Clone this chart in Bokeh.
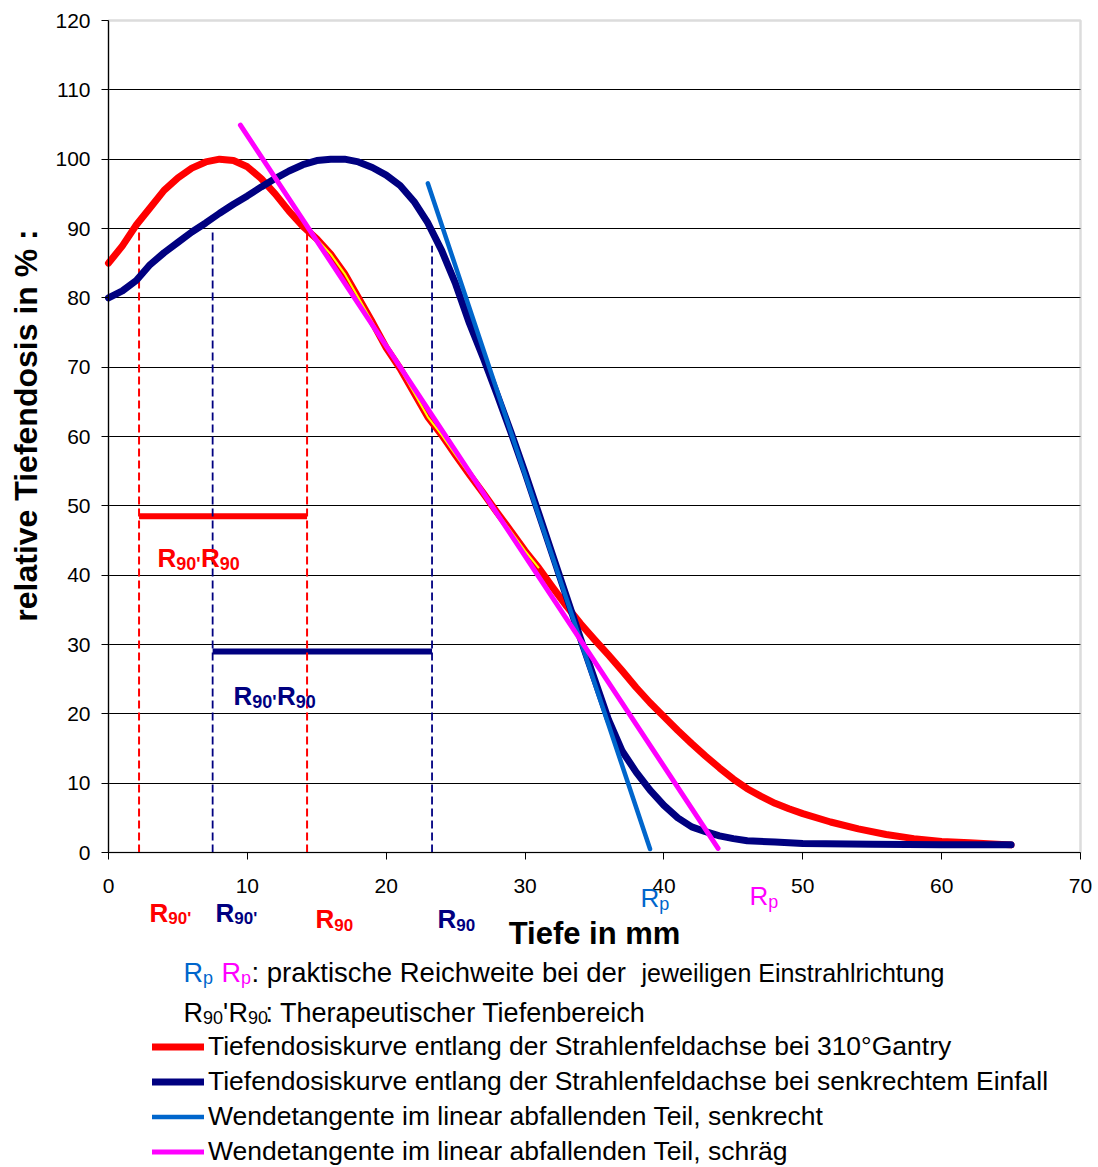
import math
from bokeh.plotting import figure
from bokeh.models import Range1d, FixedTicker, Label, Legend, LegendItem, BoxAnnotation
from bokeh.embed import file_html
from bokeh.resources import INLINE

# ---------------- data ----------------
depth_red = [0, 1, 2, 3, 4, 5, 6, 7, 8, 9, 10, 11, 12, 13, 14, 15, 16, 17, 18, 19,
             20, 21, 22, 23, 24, 25, 26, 27, 28, 29, 30, 31, 32, 33, 34, 35, 36, 37,
             38, 39, 40, 41, 42, 43, 44, 45, 46, 47, 48, 49, 50, 52, 54, 56, 58, 60,
             62, 65]
dose_red = [85, 87.5, 90.5, 93, 95.5, 97.3, 98.7, 99.6, 100, 99.8, 98.9, 97.2, 95,
            92.5, 90.3, 88.5, 86.3, 83.5, 80, 76.5, 72.8, 69.8, 66.3, 62.8, 60.2,
            57.3, 54.5, 51.8, 49, 46.3, 43.5, 41, 38.2, 35.5, 33, 30.7, 28.5, 26.2,
            23.8, 21.6, 19.6, 17.6, 15.7, 13.9, 12.2, 10.6, 9.2, 8.1, 7.1, 6.3, 5.6,
            4.4, 3.4, 2.6, 2.0, 1.6, 1.4, 1.1]

depth_yellow = [14.5, 15, 16, 17, 18, 19, 20, 21, 22, 23, 24, 25, 26, 27, 28, 29, 30, 31]
dose_yellow = [89.4, 88.5, 86.3, 83.5, 80, 76.5, 72.8, 69.8, 66.3, 62.8, 60.2, 57.3,
               54.5, 51.8, 49, 46.3, 43.5, 41]

depth_navy = [0, 1, 2, 3, 4, 5, 6, 7, 8, 9, 10, 11, 12, 13, 14, 15, 16, 17, 18, 19,
              20, 21, 22, 23, 24, 25, 26, 27, 28, 29, 30, 31, 32, 33, 34, 35, 36, 37,
              38, 39, 40, 41, 42, 43, 44, 45, 46, 48, 50, 55, 60, 65]
dose_navy = [80, 81, 82.5, 84.8, 86.5, 88, 89.5, 90.8, 92.2, 93.5, 94.7, 96, 97.2,
             98.3, 99.2, 99.8, 100, 100, 99.6, 98.8, 97.7, 96.2, 93.9, 90.8, 86.8, 82,
             76.3, 71.3, 66, 60.5, 54.8, 48.8, 42.8, 36.8, 30.8, 25.0, 19.2, 14.6,
             11.6, 9.0, 6.8, 5.0, 3.7, 3.0, 2.4, 2.0, 1.7, 1.5, 1.3, 1.2, 1.1, 1.1]

tangent_senkrecht_x = [23, 39]
tangent_senkrecht_y = [96.5, 0.5]
tangent_schraeg_x = [9.5, 43.9]
tangent_schraeg_y = [104.9, 0.6]

r90_red = [2.2, 14.3]          # R90', R90 for 310 deg gantry
r90_navy = [7.5, 23.3]         # R90', R90 for perpendicular incidence
r90_red_top = [89.5, 89.5]
r90_navy_top = [89.5, 87.5]
bar_red_level = 48.5
bar_navy_level = 29

x_ticks = [0, 10, 20, 30, 40, 50, 60, 70]
y_ticks = [0, 10, 20, 30, 40, 50, 60, 70, 80, 90, 100, 110, 120]
grid_levels = [10, 20, 30, 40, 50, 60, 70, 80, 90, 100, 110]

legend_labels = [
    "Tiefendosiskurve entlang der Strahlenfeldachse bei 310°Gantry",
    "Tiefendosiskurve entlang der Strahlenfeldachse bei senkrechtem Einfall",
    "Wendetangente im linear abfallenden Teil, senkrecht",
    "Wendetangente im linear abfallenden Teil, schräg",
]

RED = "#FF0000"
NAVY = "#000080"
BLUE = "#0066CC"
MAG = "#FF00FF"
YEL = "#FFFF00"
FONT = "Liberation Sans"

# ---------------- figure ----------------
W, H = 1098, 1167
X0_PX, X70_PX = 108, 1080        # pixel columns of x = 0 and x = 70
Y0_PX, Y120_PX = 852, 20         # pixel rows of y = 0 and y = 120
px_per_x = (X70_PX - X0_PX) / 70.0
px_per_y = (Y0_PX - Y120_PX) / 120.0


def dx(px):
    return (px - X0_PX) / px_per_x


def dy(py):
    return (Y0_PX - py) / px_per_y


p = figure(width=W, height=H, output_backend="svg", toolbar_location=None,
           x_range=Range1d(dx(0), dx(W)), y_range=Range1d(dy(H), dy(0)),
           min_border_left=0, min_border_right=0, min_border_top=0,
           min_border_bottom=0)
p.background_fill_color = "white"
p.border_fill_color = "white"
p.outline_line_color = None

# axes
for ax in (p.xaxis, p.yaxis):
    ax.axis_line_color = "black"
    ax.axis_line_width = 1.2
    ax.major_tick_line_color = "black"
    ax.major_tick_in = 0
    ax.major_tick_out = 7
    ax.minor_tick_line_color = None
    ax.major_label_text_font = FONT
    ax.major_label_text_font_size = "21px"
    ax.major_label_text_color = "black"

p.xaxis.ticker = FixedTicker(ticks=x_ticks)
p.yaxis.ticker = FixedTicker(ticks=y_ticks)
p.xaxis.fixed_location = 0
p.yaxis.fixed_location = 0
p.xaxis.bounds = (0, 70)
p.yaxis.bounds = (0, 120)
p.xaxis.major_label_standoff = 19
p.yaxis.major_label_standoff = 11

p.xgrid.grid_line_color = None
p.ygrid.ticker = FixedTicker(ticks=grid_levels)
p.ygrid.cross_bounds = (0, 70)
p.ygrid.grid_line_color = "black"
p.ygrid.grid_line_width = 1

# gray border of the plot area (top and right side visible)
p.add_layout(BoxAnnotation(left=0, right=70, bottom=0, top=120, fill_alpha=0,
                           line_color="#8C8C8C", line_width=2.5, level="underlay"))

# therapeutic range bars
p.segment(x0=[r90_red[0]], x1=[r90_red[1]], y0=[bar_red_level], y1=[bar_red_level],
          line_color=RED, line_width=6)
p.segment(x0=[r90_navy[0]], x1=[r90_navy[1]], y0=[bar_navy_level], y1=[bar_navy_level],
          line_color=NAVY, line_width=6)

# dashed R90 markers
p.segment(x0=r90_red, x1=r90_red, y0=[0, 0], y1=r90_red_top,
          line_color=RED, line_width=2, line_dash="8 4")
p.segment(x0=r90_navy, x1=r90_navy, y0=[0, 0], y1=r90_navy_top,
          line_color=NAVY, line_width=1.8, line_dash="8 4")

# curves
r_red = p.line(depth_red, dose_red, line_color=RED, line_width=7,
               line_cap="round", line_join="round")
p.line(depth_yellow, dose_yellow, line_color=YEL, line_width=2, line_join="round")
r_navy = p.line(depth_navy, dose_navy, line_color=NAVY, line_width=7,
                line_cap="round", line_join="round")
r_blue = p.line(tangent_senkrecht_x, tangent_senkrecht_y, line_color=BLUE,
                line_width=4.5, line_cap="round")
r_mag = p.line(tangent_schraeg_x, tangent_schraeg_y, line_color=MAG,
               line_width=5, line_cap="round")

# legend below the plot area (location in px from frame bottom-left)
legend = Legend(
    items=[LegendItem(label=legend_labels[0], renderers=[r_red]),
           LegendItem(label=legend_labels[1], renderers=[r_navy]),
           LegendItem(label=legend_labels[2], renderers=[r_blue]),
           LegendItem(label=legend_labels[3], renderers=[r_mag])],
    location=(152, 0.5), orientation="vertical", padding=0, margin=0,
    spacing=4, glyph_width=52, glyph_height=31, label_height=31,
    label_standoff=4, label_text_font=FONT, label_text_font_size="26.5px",
    label_text_color="black", border_line_alpha=0, background_fill_alpha=0)
p.add_layout(legend)

SHIFT = -8   # baseline correction in pixels


def lab(px, py, text, color, size, bold=False):
    p.add_layout(Label(x=dx(px), y=dy(py + SHIFT), text=text, text_color=color,
                       text_font=FONT, text_font_size=f"{size}px",
                       text_font_style="bold" if bold else "normal",
                       text_align="left", text_baseline="alphabetic"))


# axis titles
p.add_layout(Label(x=dx(25), y=dy(425), text="relative Tiefendosis in % :",
                   angle=math.pi / 2, text_align="center", text_baseline="middle",
                   text_font=FONT, text_font_size="32px", text_font_style="bold",
                   text_color="black"))
p.add_layout(Label(x=dx(594), y=dy(933), text="Tiefe in mm",
                   text_align="center", text_baseline="middle",
                   text_font=FONT, text_font_size="31px", text_font_style="bold",
                   text_color="black"))

# labels in the plot area
for (x0, yb, col) in [(157, 565, RED), (233, 703, NAVY)]:
    lab(x0, yb, "R", col, 26, True)
    lab(x0 + 18.8, yb + 6, "90'", col, 18, True)
    lab(x0 + 43.4, yb, "R", col, 26, True)
    lab(x0 + 62.2, yb + 6, "90", col, 18, True)

# labels under the x axis
for (x0, yb, col, sub) in [(149, 920, RED, "90'"), (215, 920, NAVY, "90'"),
                           (315, 926, RED, "90"), (437, 926, NAVY, "90")]:
    lab(x0, yb, "R", col, 26, True)
    lab(x0 + 18.8, yb + 6, sub, col, 17, True)

lab(640, 905, "R", BLUE, 26)
lab(658.8, 911, "p", BLUE, 18)
lab(749, 903, "R", MAG, 26)
lab(767.8, 909, "p", MAG, 18)

# explanation rows
lab(183, 980, "R", BLUE, 27)
lab(202.5, 985, "p", BLUE, 18)
lab(221, 980, "R", MAG, 27)
lab(240.5, 985, "p", MAG, 18)
lab(251, 980, ": praktische Reichweite bei der", "black", 27.5)
lab(641, 980, "jeweiligen Einstrahlrichtung", "black", 25)

lab(183, 1020, "R", "black", 27)
lab(202.5, 1025, "90", "black", 18)
lab(222.5, 1020, "'", "black", 27)
lab(228, 1020, "R", "black", 27)
lab(247.5, 1025, "90", "black", 18)
lab(265, 1020, ": Therapeutischer Tiefenbereich", "black", 27)

open("out.html", "w").write(file_html(p, INLINE))
